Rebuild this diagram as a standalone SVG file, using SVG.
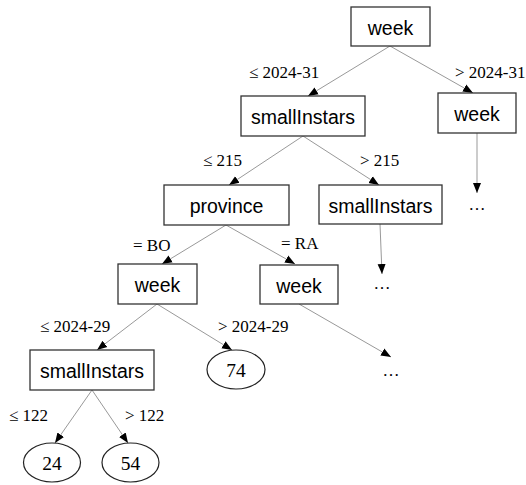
<svg xmlns="http://www.w3.org/2000/svg" width="526" height="485" viewBox="0 0 526 485">
<style>
.box{fill:#fff;stroke:#333;stroke-width:1.3}
.ell{fill:#fff;stroke:#222;stroke-width:1.2}
.nt{font-family:"Liberation Sans",Arial,sans-serif;font-size:19.5px;fill:#000;text-anchor:middle;dominant-baseline:central}
.lt{font-family:"Liberation Serif","Times New Roman",serif;font-size:19.5px;fill:#000;text-anchor:middle;dominant-baseline:central}
.el{font-family:"Liberation Serif","Times New Roman",serif;font-size:17px;fill:#000}
.dots{font-family:"Liberation Serif","Times New Roman",serif;font-size:17px;fill:#000;text-anchor:middle}
.edge{stroke:#999;stroke-width:1;fill:none;marker-end:url(#ah)}
</style>
<defs>
<marker id="ah" markerUnits="userSpaceOnUse" markerWidth="10" markerHeight="10" viewBox="0 0 10 10" refX="10" refY="5" orient="auto">
<path d="M0,1 L10,5 L0,9 Z" fill="#000"/>
</marker>
</defs>
<rect width="526" height="485" fill="#fff"/>
<g id="connectors">
<line class="edge" x1="390" y1="46" x2="308" y2="96"/>
<line class="edge" x1="390" y1="46" x2="473" y2="93"/>
<line class="edge" x1="477" y1="133" x2="477" y2="193"/>
<line class="edge" x1="303" y1="136" x2="229" y2="185"/>
<line class="edge" x1="303" y1="136" x2="379" y2="185"/>
<line class="edge" x1="226" y1="225" x2="162" y2="264"/>
<line class="edge" x1="226" y1="225" x2="295" y2="264"/>
<line class="edge" x1="380" y1="224" x2="382" y2="274"/>
<line class="edge" x1="157" y1="304" x2="97" y2="350"/>
<line class="edge" x1="157" y1="304" x2="232" y2="350"/>
<line class="edge" x1="299" y1="304" x2="391" y2="357"/>
<line class="edge" x1="92" y1="390" x2="55" y2="443"/>
<line class="edge" x1="92" y1="390" x2="128" y2="443"/>
<text class="el" x="249" y="78">≤ 2024-31</text>
<text class="el" x="455" y="78">&gt; 2024-31</text>
<text class="el" x="203" y="166">≤ 215</text>
<text class="el" x="360" y="166">&gt; 215</text>
<text class="el" x="133" y="251">= BO</text>
<text class="el" x="281" y="249">= RA</text>
<text class="el" x="40" y="332">≤ 2024-29</text>
<text class="el" x="218" y="332">&gt; 2024-29</text>
<text class="el" x="9" y="421">≤ 122</text>
<text class="el" x="125" y="421">&gt; 122</text>
<text class="dots" x="477" y="210">…</text>
<text class="dots" x="382" y="289">…</text>
<text class="dots" x="391" y="376">…</text>
</g>
<g id="n_root"><rect class="box" x="351" y="7" width="79" height="39"/><text class="nt" x="390.5" y="27.5">week</text></g>
<g id="n_small1"><rect class="box" x="241" y="96" width="124" height="40"/><text class="nt" x="303" y="117">smallInstars</text></g>
<g id="n_week_r"><rect class="box" x="438" y="93" width="78" height="40"/><text class="nt" x="477" y="114">week</text></g>
<g id="n_province"><rect class="box" x="164" y="185" width="125" height="40"/><text class="nt" x="226.5" y="206">province</text></g>
<g id="n_small2"><rect class="box" x="319" y="185" width="123" height="39"/><text class="nt" x="380.5" y="205.5">smallInstars</text></g>
<g id="n_week_bo"><rect class="box" x="118" y="264" width="79" height="40"/><text class="nt" x="157.5" y="285">week</text></g>
<g id="n_week_ra"><rect class="box" x="260" y="265" width="78" height="39"/><text class="nt" x="299" y="285.5">week</text></g>
<g id="n_small3"><rect class="box" x="30" y="350" width="124" height="40"/><text class="nt" x="92" y="371">smallInstars</text></g>
<g id="n_74"><ellipse class="ell" cx="236" cy="369.5" rx="29" ry="19.5"/><text class="lt" x="236" y="370.5">74</text></g>
<g id="n_24"><ellipse class="ell" cx="52" cy="462.5" rx="28.5" ry="19.5"/><text class="lt" x="52" y="463.5">24</text></g>
<g id="n_54"><ellipse class="ell" cx="130.5" cy="462.5" rx="28.5" ry="19.5"/><text class="lt" x="130.5" y="463.5">54</text></g>
</svg>
